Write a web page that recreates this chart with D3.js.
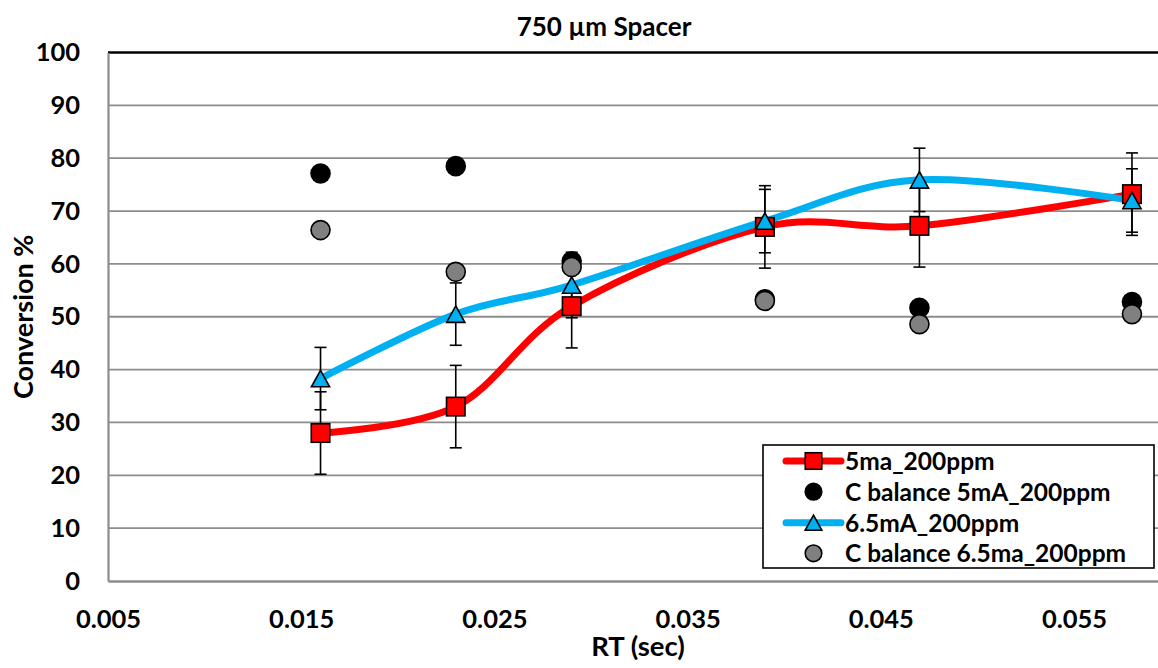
<!DOCTYPE html>
<html>
<head>
<meta charset="utf-8">
<script src="https://cdn.jsdelivr.net/npm/d3@7"></script>
<style>
  html, body { margin: 0; padding: 0; background: #fff; overflow: hidden; }
  svg { display: block; }
  text { font-family: Lato, "Open Sans", sans-serif; font-weight: 700; fill: #000; }
</style>
</head>
<body>
<svg id="chart" width="1158" height="668"></svg>
<script>
// Residence time (s) at each measurement
const rt = [0.016, 0.023, 0.029, 0.039, 0.047, 0.058];

// Conversion % and error (±) for the two discharge currents
const conv5mA = [28, 33, 52, 67, 67.2, 73.2];
const err5mA = [7.8, 7.8, 7.9, 7.8, 7.8, 7.8];
const conv65mA = [38.3, 50.5, 56, 68.1, 75.9, 72];
const err65mA = [5.9, 5.9, 6.2, 6, 6, 6];

// Carbon balance at each residence time
const cBal5mA = [77.1, 78.5, 60.5, 53.3, 51.7, 52.8];
const cBal65mA = [66.4, 58.5, 59.4, 53.0, 48.6, 50.5];

const xTicks = [0.005, 0.015, 0.025, 0.035, 0.045, 0.055];
const yTicks = [0, 10, 20, 30, 40, 50, 60, 70, 80, 90, 100];

const seriesNames = ["5ma_200ppm", "C balance 5mA_200ppm", "6.5mA_200ppm", "C balance 6.5ma_200ppm"];

const RED = "#ff0000", BLUE = "#00b0f0", GREY = "#808080";

const svg = d3.select("#chart");

const x = d3.scaleLinear().domain([0.005, 0.06]).range([108, 1170.6]);
const y = d3.scaleLinear().domain([0, 100]).range([581, 52.5]);

// horizontal gridlines
svg.append("g").selectAll("line")
  .data(yTicks.filter(v => v > 0 && v < 100))
  .join("line")
  .attr("x1", x(0.005)).attr("x2", x(0.06))
  .attr("y1", d => y(d)).attr("y2", d => y(d))
  .attr("stroke", "#8c8c8c").attr("stroke-width", 1.8);

// top edge of plot area
svg.append("line")
  .attr("x1", x(0.005)).attr("x2", x(0.06))
  .attr("y1", y(100)).attr("y2", y(100))
  .attr("stroke", "#000").attr("stroke-width", 2.4);

// y axis
const yAxis = svg.append("g")
  .attr("transform", `translate(${x(0.005)},0)`)
  .call(d3.axisLeft(y).tickValues(yTicks).tickSize(0).tickPadding(28).tickFormat(d3.format("d")));
yAxis.select(".domain").attr("stroke", "#8c8c8c").attr("stroke-width", 2.2);
yAxis.selectAll("text").attr("font-size", 25.5).attr("font-family", "Lato, sans-serif").attr("font-weight", 700).attr("fill", "#000");

// x axis
const xAxis = svg.append("g")
  .attr("transform", `translate(0,${y(0)})`)
  .call(d3.axisBottom(x).tickValues(xTicks).tickSize(0).tickPadding(29).tickFormat(d3.format(".3f")));
xAxis.select(".domain").attr("stroke", "#8c8c8c").attr("stroke-width", 2.6);
xAxis.selectAll("text").attr("font-size", 25.5).attr("font-family", "Lato, sans-serif").attr("font-weight", 700).attr("fill", "#000");

// titles
svg.append("text").attr("x", 604).attr("y", 36).attr("text-anchor", "middle")
  .attr("font-size", 26).text("750 µm Spacer");
svg.append("text").attr("x", 638).attr("y", 656).attr("text-anchor", "middle")
  .attr("font-size", 27.5).text("RT (sec)");
svg.append("text")
  .attr("transform", `translate(33,${(y(0) + y(100)) / 2}) rotate(-90)`)
  .attr("text-anchor", "middle").attr("font-size", 27).text("Conversion %");

// smoothed lines
const line = d3.line().x(d => x(d[0])).y(d => y(d[1])).curve(d3.curveCardinal.tension(0));
const pts = vals => rt.map((t, i) => [t, vals[i]]);

svg.append("path").datum(pts(conv5mA)).attr("d", line)
  .attr("fill", "none").attr("stroke", RED).attr("stroke-width", 7).attr("stroke-linejoin", "round");
svg.append("path").datum(pts(conv65mA)).attr("d", line)
  .attr("fill", "none").attr("stroke", BLUE).attr("stroke-width", 7).attr("stroke-linejoin", "round");

// error bars
function errorBars(vals, errs) {
  const g = svg.append("g").attr("stroke", "#000").attr("stroke-width", 1.6);
  rt.forEach((t, i) => {
    const cx = x(t), lo = y(vals[i] - errs[i]), hi = y(vals[i] + errs[i]);
    g.append("line").attr("x1", cx).attr("x2", cx).attr("y1", lo).attr("y2", hi);
    g.append("line").attr("x1", cx - 6).attr("x2", cx + 6).attr("y1", lo).attr("y2", lo);
    g.append("line").attr("x1", cx - 6).attr("x2", cx + 6).attr("y1", hi).attr("y2", hi);
  });
}
errorBars(conv5mA, err5mA);
errorBars(conv65mA, err65mA);

// marker shapes
const tri = s => `M0,${-s * 0.47}L${s * 0.52},${s * 0.47}L${-s * 0.52},${s * 0.47}Z`;
function square(g, cx, cy, s) {
  g.append("rect").attr("x", cx - s / 2).attr("y", cy - s / 2).attr("width", s).attr("height", s)
    .attr("fill", RED).attr("stroke", "#000").attr("stroke-width", 1.6);
}
function triangle(g, cx, cy, s) {
  g.append("path").attr("d", tri(s)).attr("transform", `translate(${cx},${cy})`)
    .attr("fill", BLUE).attr("stroke", "#000").attr("stroke-width", 1.6).attr("stroke-linejoin", "miter");
}
function circle(g, cx, cy, r, fill) {
  g.append("circle").attr("cx", cx).attr("cy", cy).attr("r", r)
    .attr("fill", fill).attr("stroke", "#000").attr("stroke-width", 1.6);
}

const mk = svg.append("g");
rt.forEach((t, i) => square(mk, x(t), y(conv5mA[i]), 18.5));
rt.forEach((t, i) => circle(mk, x(t), y(cBal5mA[i]), 9.5, "#000"));
rt.forEach((t, i) => triangle(mk, x(t), y(conv65mA[i]), 17.5));
rt.forEach((t, i) => circle(mk, x(t), y(cBal65mA[i]), 9.5, GREY));

// legend
const lg = svg.append("g");
lg.append("rect").attr("x", 763).attr("y", 445).attr("width", 391).attr("height", 123)
  .attr("fill", "#fff").attr("stroke", "#000").attr("stroke-width", 1.6);
const rowY = [461, 491.7, 522.7, 553.3];
const lx0 = 786, lx1 = 841, mxl = 813.5, tx = 845;
[RED, null, BLUE, null].forEach((c, i) => {
  if (c) lg.append("line").attr("x1", lx0).attr("x2", lx1).attr("y1", rowY[i]).attr("y2", rowY[i])
    .attr("stroke", c).attr("stroke-width", 7).attr("stroke-linecap", "round");
});
square(lg, mxl, rowY[0], 16.5);
circle(lg, mxl, rowY[1], 8.3, "#000");
triangle(lg, mxl, rowY[2], 16);
circle(lg, mxl, rowY[3], 8.3, GREY);
seriesNames.forEach((n, i) => {
  lg.append("text").attr("x", tx).attr("y", rowY[i]).attr("dy", "0.36em")
    .attr("font-size", 24.5).text(n);
});
</script>
</body>
</html>
